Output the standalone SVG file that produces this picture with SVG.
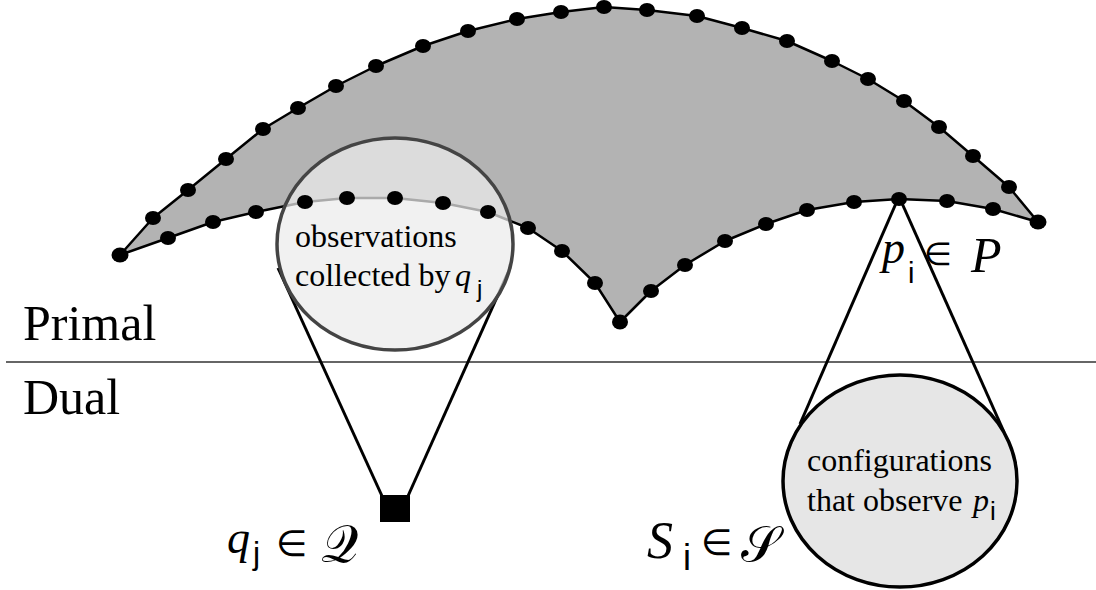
<svg xmlns="http://www.w3.org/2000/svg" width="1096" height="590" viewBox="0 0 1096 590">
<defs>
<style>
.dot{fill:#000}
.conn{stroke:#000;stroke-width:3;fill:none}
</style>
</defs>
<rect width="1096" height="590" fill="#fff"/>
<g id="divider"><line x1="6" y1="362" x2="1096" y2="362" stroke="#333" stroke-width="1.5"/></g>
<g id="primal-surface">
<polygon points="120,255 153,218 188,190 226,159 263,129 298,108 336,86 376,66 423,46 468,31 517,19 561,12 604,7 647,10 697,16 742,28 787,41 832,61 868,79 904,101 939,127 973,156 1009,187 1038,222 993,209 947,201 899,199 854,202 807,210 766,224 725,241 685,265 651,291 620,322 595,283 562,251 528,228 488,212 443,203 395,198 347,198 305,202 256,212 213,222 168,238" fill="#b3b3b3" stroke="#000" stroke-width="2.5" stroke-linejoin="round"/>
</g>
<g id="connectors">
<line class="conn" x1="278" y1="268" x2="382" y2="496"/>
<line class="conn" x1="510" y1="268" x2="408" y2="496"/>
<line class="conn" x1="897" y1="201" x2="800" y2="424"/>
<line class="conn" x1="901" y1="201" x2="1004" y2="432"/>
</g>
<g id="observation-circle">
<ellipse cx="395" cy="244" rx="118" ry="106" fill="#ececec" fill-opacity="0.72" stroke="#444" stroke-width="3.5"/>
</g>
<g id="sample-points">
<ellipse class="dot" cx="120" cy="255" rx="8.5" ry="7.5"/>
<ellipse class="dot" cx="153" cy="218" rx="8" ry="7"/>
<ellipse class="dot" cx="188" cy="190" rx="8" ry="7"/>
<ellipse class="dot" cx="226" cy="159" rx="8" ry="7"/>
<ellipse class="dot" cx="263" cy="129" rx="8" ry="7"/>
<ellipse class="dot" cx="298" cy="108" rx="8" ry="7"/>
<ellipse class="dot" cx="336" cy="86" rx="8" ry="7"/>
<ellipse class="dot" cx="376" cy="66" rx="8" ry="7"/>
<ellipse class="dot" cx="423" cy="46" rx="8" ry="7"/>
<ellipse class="dot" cx="468" cy="31" rx="8" ry="7"/>
<ellipse class="dot" cx="517" cy="19" rx="8" ry="7"/>
<ellipse class="dot" cx="561" cy="12" rx="8" ry="7"/>
<ellipse class="dot" cx="604" cy="7" rx="8" ry="7"/>
<ellipse class="dot" cx="647" cy="10" rx="8" ry="7"/>
<ellipse class="dot" cx="697" cy="16" rx="8" ry="7"/>
<ellipse class="dot" cx="742" cy="28" rx="8" ry="7"/>
<ellipse class="dot" cx="787" cy="41" rx="8" ry="7"/>
<ellipse class="dot" cx="832" cy="61" rx="8" ry="7"/>
<ellipse class="dot" cx="868" cy="79" rx="8" ry="7"/>
<ellipse class="dot" cx="904" cy="101" rx="8" ry="7"/>
<ellipse class="dot" cx="939" cy="127" rx="8" ry="7"/>
<ellipse class="dot" cx="973" cy="156" rx="8" ry="7"/>
<ellipse class="dot" cx="1009" cy="187" rx="8" ry="7"/>
<ellipse class="dot" cx="1038" cy="222" rx="8.5" ry="7.5"/>
<ellipse class="dot" cx="993" cy="209" rx="8" ry="7"/>
<ellipse class="dot" cx="947" cy="201" rx="8" ry="7"/>
<ellipse class="dot" cx="899" cy="199" rx="8" ry="7"/>
<ellipse class="dot" cx="854" cy="202" rx="8" ry="7"/>
<ellipse class="dot" cx="807" cy="210" rx="8" ry="7"/>
<ellipse class="dot" cx="766" cy="224" rx="8" ry="7"/>
<ellipse class="dot" cx="725" cy="241" rx="8" ry="7"/>
<ellipse class="dot" cx="685" cy="265" rx="8" ry="7"/>
<ellipse class="dot" cx="651" cy="291" rx="8" ry="7"/>
<ellipse class="dot" cx="620" cy="322" rx="8" ry="7.5"/>
<ellipse class="dot" cx="595" cy="283" rx="8" ry="7"/>
<ellipse class="dot" cx="562" cy="251" rx="8" ry="7"/>
<ellipse class="dot" cx="528" cy="228" rx="8" ry="7"/>
<ellipse class="dot" cx="488" cy="212" rx="8" ry="7"/>
<ellipse class="dot" cx="443" cy="203" rx="8" ry="7"/>
<ellipse class="dot" cx="395" cy="198" rx="8" ry="7"/>
<ellipse class="dot" cx="347" cy="198" rx="8" ry="7"/>
<ellipse class="dot" cx="305" cy="202" rx="8" ry="7"/>
<ellipse class="dot" cx="256" cy="212" rx="8" ry="7"/>
<ellipse class="dot" cx="213" cy="222" rx="8" ry="7"/>
<ellipse class="dot" cx="168" cy="238" rx="8" ry="7"/>
</g>
<g id="observation-text" font-family="Liberation Serif, DejaVu Serif, serif" fill="#000">
<text x="295" y="247" font-size="32">observations</text>
<text x="295" y="286" font-size="32">collected by<tspan font-style="italic" x="455">q</tspan><tspan font-family="Liberation Sans, DejaVu Sans, sans-serif" x="477" y="297" font-size="24">j</tspan></text>
</g>
<g id="configuration-circle">
<ellipse cx="900" cy="481" rx="117" ry="106" fill="#e6e6e6" stroke="#000" stroke-width="3.5"/>
<g font-family="Liberation Serif, DejaVu Serif, serif" fill="#000">
<text x="807" y="471" font-size="32">configurations</text>
<text x="807" y="511" font-size="32">that observe<tspan font-style="italic" x="973">p</tspan><tspan font-family="Liberation Sans, DejaVu Sans, sans-serif" x="990" y="520" font-size="26">i</tspan></text>
</g>
</g>
<g id="query-node">
<rect x="380" y="495" width="30" height="27" fill="#000"/>
</g>
<g id="labels" fill="#000">
<g font-family="Liberation Serif, DejaVu Serif, serif">
<text x="23" y="340" font-size="50">Primal</text>
<text x="23" y="414" font-size="50">Dual</text>
<text font-style="italic" x="882" y="263" font-size="46">p</text>
<text font-style="italic" x="971" y="272" font-size="50">P</text>
<text font-style="italic" x="227" y="553" font-size="46">q</text>
<text font-style="italic" x="647" y="558" font-size="52">S</text>
</g>
<g font-family="Liberation Sans, DejaVu Sans, sans-serif">
<text x="908" y="283" font-size="29">i</text>
<text x="253" y="564" font-size="32">j</text>
<text x="683" y="570" font-size="36">i</text>
</g>
<g font-family="DejaVu Sans, sans-serif">
<text x="924" y="265" font-size="32">∈</text>
<text x="276" y="556" font-size="36">∈</text>
<text x="701" y="555" font-size="36">∈</text>
<text x="321" y="562" font-size="52">𝒬</text>
<text x="741" y="561" font-size="50">𝒮</text>
</g>
</g>
</svg>
